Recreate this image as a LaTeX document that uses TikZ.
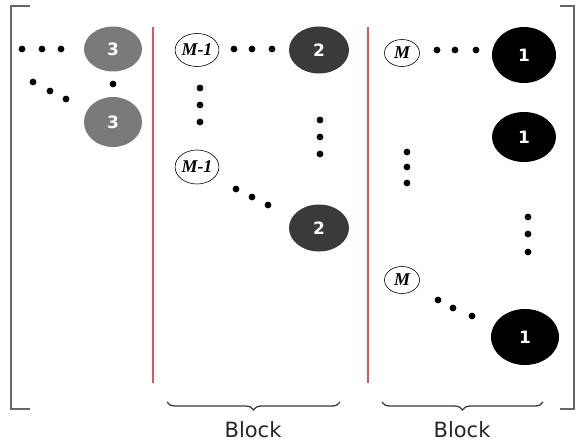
\documentclass[tikz,border=0pt]{standalone}
\usepackage{fontspec}
\setmainfont{Liberation Serif}
\newfontfamily\numfont{DejaVu Sans}
\usetikzlibrary{shapes.geometric,decorations.pathreplacing}
\definecolor{cthree}{HTML}{7A7A7A}
\definecolor{ctwo}{HTML}{3A3A3A}
\definecolor{cbrk}{HTML}{666666}
\definecolor{cred}{HTML}{E05555}
\begin{document}
\begin{tikzpicture}[x=1pt,y=-1pt,
  num/.style={ellipse,inner sep=0pt,text=white,font=\numfont\bfseries\fontsize{17}{17}\selectfont},
  mlab/.style={ellipse,draw=black,line width=0.6pt,inner sep=0pt,font=\bfseries\itshape\fontsize{18}{18}\selectfont},
  dotmark/.style={fill=black},
  brk/.style={draw=cbrk,line width=1.3pt},
  redl/.style={draw=cred,line width=1.2pt},
  brc/.style={draw=ctwo,line width=1.3pt,decorate,decoration={brace,mirror,amplitude=8pt}}]
\useasboundingbox (0,0) rectangle (576,444);
% outer brackets
\draw[brk] (30,6) -- (11,6) -- (11,409) -- (30,409);
\draw[brk] (560,6) -- (574,6) -- (574,409) -- (560,409);
% red separators
\draw[redl] (153,27) -- (153,383);
\draw[redl] (368,27) -- (368,383);
% column 3
\node[num,fill=cthree,minimum width=58pt,minimum height=45pt] (t3a) at (113,49) {3};
\node[num,fill=cthree,minimum width=58pt,minimum height=50pt] (t3b) at (113,122) {3};
\foreach \x in {22,42,61} \fill[dotmark] (\x,49) circle (3.4);
\fill[dotmark] (113,84) circle (3.4);
\foreach \x/\y in {33/82,50/91,66/99} \fill[dotmark] (\x,\y) circle (3.4);
% column 2
\node[mlab,minimum width=42pt,minimum height=33pt] (m1a) at (197,50) {M-1};
\node[mlab,minimum width=42pt,minimum height=34pt] (m1b) at (197,167) {M-1};
\node[num,fill=ctwo,minimum width=60pt,minimum height=47pt] (t2a) at (319,50) {2};
\node[num,fill=ctwo,minimum width=60pt,minimum height=47pt] (t2b) at (319,228) {2};
\foreach \x in {234,252,272} \fill[dotmark] (\x,49) circle (3.4);
\foreach \y in {88,105,122} \fill[dotmark] (200,\y) circle (3.4);
\foreach \y in {120,137,154} \fill[dotmark] (320,\y) circle (3.4);
\foreach \x/\y in {236/189,252/197,268/205} \fill[dotmark] (\x,\y) circle (3.4);
% column 1
\node[mlab,minimum width=35pt,minimum height=27pt] (ma) at (402,53) {M};
\node[mlab,minimum width=35pt,minimum height=27pt] (mb) at (402,280) {M};
\node[num,fill=black,minimum width=64pt,minimum height=56pt] (t1a) at (524,55) {1};
\node[num,fill=black,minimum width=64pt,minimum height=50pt] (t1b) at (524,137) {1};
\node[num,fill=black,minimum width=68pt,minimum height=56pt] (t1c) at (525,337) {1};
\foreach \x in {437,455,476} \fill[dotmark] (\x,50) circle (3.4);
\foreach \y in {152,167,183} \fill[dotmark] (407,\y) circle (3.4);
\foreach \y in {217,234,252} \fill[dotmark] (528,\y) circle (3.4);
\foreach \x/\y in {438/300,453/308,472/316} \fill[dotmark] (\x,\y) circle (3.4);
% braces
\coordinate (b1l) at (167,402);
\coordinate (b1r) at (340,402);
\coordinate (b2l) at (382,402);
\coordinate (b2r) at (543,402);
\draw[brc] (b1l) -- (b1r);
\draw[brc] (b2l) -- (b2r);
\node[font=\numfont\fontsize{21}{21}\selectfont,text=black!85] (blk1) at (253,430) {Block};
\node[font=\numfont\fontsize{21}{21}\selectfont,text=black!85] (blk2) at (462,430) {Block};
\end{tikzpicture}
\end{document}
